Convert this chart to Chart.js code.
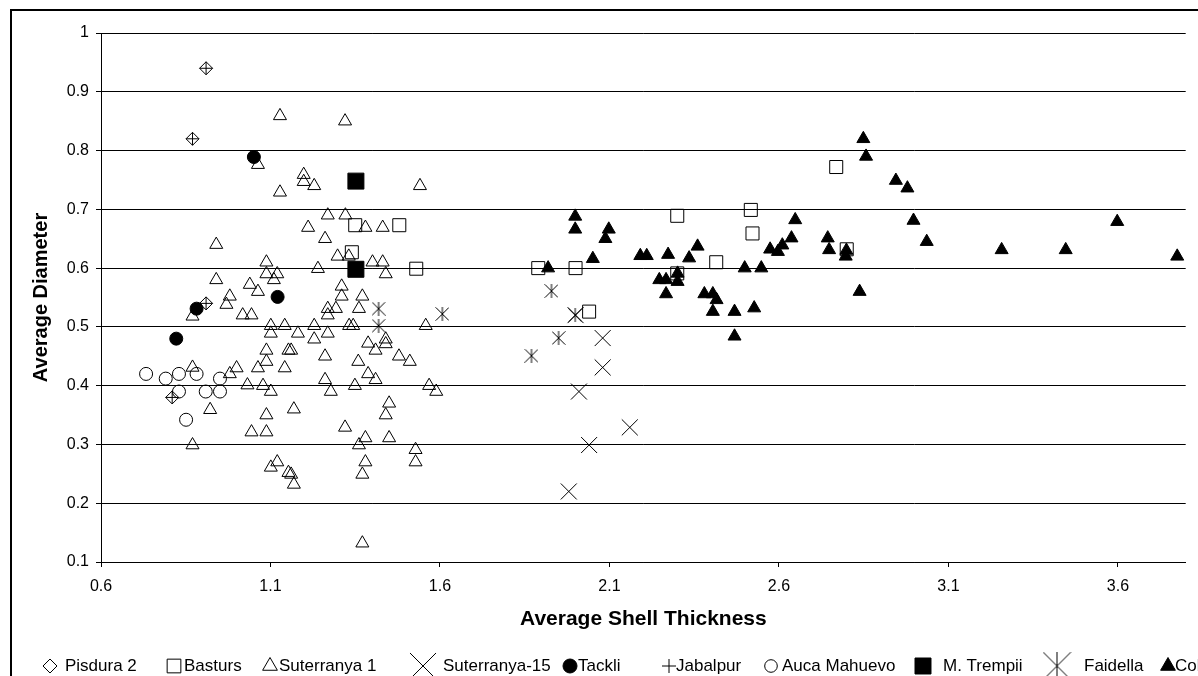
<!DOCTYPE html>
<html>
<head>
<meta charset="utf-8">
<script src="https://cdn.jsdelivr.net/npm/chart.js@4/dist/chart.umd.min.js"></script>
<style>
  body { margin: 0; background: #fff; overflow: hidden; }
  #chart { display: block; }
</style>
</head>
<body>
<canvas id="chart" width="1198" height="676"></canvas>
<script>
// axis ticks
var xTicks = [0.6, 1.1, 1.6, 2.1, 2.6, 3.1, 3.6];
var xTickLabels = ['0.6', '1.1', '1.6', '2.1', '2.6', '3.1', '3.6'];
var yTicks = [0.1, 0.2, 0.3, 0.4, 0.5, 0.6, 0.7, 0.8, 0.9, 1];
var yTickLabels = ['0.1', '0.2', '0.3', '0.4', '0.5', '0.6', '0.7', '0.8', '0.9', '1'];

var seriesNames = ['Pisdura 2', 'Basturs', 'Suterranya 1', 'Suterranya-15', 'Tackli',
  'Jabalpur', 'Auca Mahuevo', 'M. Trempii', 'Faidella', 'Coll de Nargó'];

// [shell thickness, diameter]
var pisdura2 = [[0.91, 0.94], [0.87, 0.82], [0.91, 0.54], [0.81, 0.38]];
var basturs = [[1.35, 0.673], [1.48, 0.673], [1.34, 0.627], [1.53, 0.599], [1.89, 0.6], [2.0, 0.6],
  [2.04, 0.526], [2.3, 0.689], [2.3, 0.591], [2.415, 0.61], [2.517, 0.699], [2.522, 0.659],
  [2.769, 0.772], [2.8, 0.632]];
var suterranya1 = [[1.128, 0.859], [1.32, 0.85], [1.063, 0.776], [1.198, 0.759], [1.198, 0.747],
  [1.229, 0.74], [1.541, 0.74], [1.128, 0.729], [1.269, 0.69], [1.321, 0.69], [1.211, 0.669],
  [1.38, 0.669], [1.431, 0.669], [1.261, 0.65], [1.298, 0.62], [1.331, 0.62], [1.401, 0.61],
  [1.431, 0.61], [1.44, 0.59], [1.24, 0.599], [1.088, 0.61], [1.088, 0.59], [1.12, 0.59],
  [1.11, 0.58], [1.039, 0.572], [1.063, 0.56], [1.31, 0.569], [1.31, 0.552], [1.371, 0.552],
  [1.269, 0.531], [1.293, 0.531], [1.269, 0.52], [1.361, 0.531], [1.044, 0.52], [1.101, 0.502],
  [1.142, 0.502], [1.229, 0.502], [1.332, 0.502], [1.344, 0.502], [1.558, 0.502], [1.101, 0.489],
  [1.181, 0.489], [1.229, 0.479], [1.269, 0.489], [1.44, 0.479], [1.44, 0.471], [1.388, 0.472],
  [1.41, 0.46], [1.479, 0.45], [1.511, 0.441], [1.088, 0.46], [1.153, 0.46], [1.161, 0.46],
  [1.261, 0.45], [1.088, 0.441], [1.359, 0.441], [1.063, 0.43], [1.142, 0.43], [1.388, 0.42],
  [1.41, 0.41], [1.261, 0.41], [1.278, 0.39], [1.349, 0.4], [1.078, 0.4], [1.101, 0.39],
  [1.568, 0.4], [1.589, 0.39], [1.45, 0.37], [1.44, 0.35], [1.088, 0.35], [1.169, 0.36],
  [1.32, 0.329], [1.044, 0.321], [1.088, 0.321], [1.38, 0.311], [1.361, 0.299], [1.45, 0.311],
  [1.528, 0.291], [1.528, 0.27], [1.38, 0.27], [1.371, 0.249], [1.12, 0.27], [1.101, 0.261],
  [1.153, 0.252], [1.161, 0.249], [1.169, 0.232], [1.371, 0.132], [0.94, 0.64], [0.94, 0.58],
  [0.98, 0.552], [0.97, 0.538], [1.018, 0.52], [0.87, 0.518], [0.87, 0.431], [1.0, 0.43],
  [0.98, 0.42], [1.032, 0.401], [0.922, 0.359], [0.87, 0.299]];
var suterranya15 = [[2.0, 0.52], [2.08, 0.481], [2.08, 0.431], [2.01, 0.39], [2.16, 0.329],
  [2.04, 0.299], [1.98, 0.22]];
var tackli = [[1.051, 0.789], [1.121, 0.551], [0.882, 0.531], [0.822, 0.48]];
var jabalpur = [[0.91, 0.94], [0.87, 0.82], [0.91, 0.54], [0.81, 0.38]];
var aucaMahuevo = [[0.733, 0.42], [0.791, 0.412], [0.83, 0.42], [0.882, 0.42], [0.951, 0.412],
  [0.83, 0.39], [0.909, 0.39], [0.951, 0.39], [0.851, 0.342]];
var mTrempii = [[1.352, 0.748], [1.352, 0.598]];
var faidella = [[1.419, 0.531], [1.607, 0.522], [1.419, 0.502], [1.929, 0.561], [1.999, 0.52],
  [1.95, 0.481], [1.87, 0.451]];
var collDeNargo = [[1.919, 0.6], [1.999, 0.688], [1.999, 0.666], [2.051, 0.616], [2.098, 0.666],
  [2.088, 0.65], [2.191, 0.621], [2.21, 0.621], [2.273, 0.623], [2.335, 0.617], [2.36, 0.637],
  [2.247, 0.58], [2.267, 0.58], [2.267, 0.556], [2.301, 0.591], [2.301, 0.577], [2.38, 0.556],
  [2.405, 0.556], [2.416, 0.546], [2.405, 0.526], [2.469, 0.526], [2.527, 0.532], [2.469, 0.484],
  [2.499, 0.6], [2.548, 0.6], [2.574, 0.632], [2.597, 0.628], [2.61, 0.639], [2.637, 0.651],
  [2.648, 0.682], [2.744, 0.651], [2.748, 0.631], [2.799, 0.63], [2.797, 0.62], [2.838, 0.56],
  [2.849, 0.82], [2.857, 0.79], [2.945, 0.749], [2.979, 0.736], [2.997, 0.681], [3.036, 0.645],
  [3.257, 0.631], [3.446, 0.631], [3.598, 0.679], [3.775, 0.62]];

var seriesData = [pisdura2, basturs, suterranya1, suterranya15, tackli,
  jabalpur, aucaMahuevo, mTrempii, faidella, collDeNargo];

// excel style asterisk: X with a vertical bar
function makeStar(size) {
  var c = document.createElement('canvas');
  c.width = size; c.height = size;
  var g = c.getContext('2d');
  g.strokeStyle = '#000';
  g.lineWidth = 1;
  g.beginPath();
  g.moveTo(0.5, 0.5); g.lineTo(size - 0.5, size - 0.5);
  g.moveTo(size - 0.5, 0.5); g.lineTo(0.5, size - 0.5);
  g.moveTo(size / 2, 0); g.lineTo(size / 2, size);
  g.stroke();
  return c;
}

var none = 'rgba(0,0,0,0)';
// marker look per series, plot size and legend size
var markers = [
  { style: 'rectRot', r: 6.5, fill: none, lr: 7 },
  { style: 'rect', r: 9.2, fill: none, lr: 9.7 },
  { style: 'triangle', r: 7.5, fill: none, lr: 8.5 },
  { style: 'crossRot', r: 11.3, fill: none, lr: 18.4 },
  { style: 'circle', r: 6.5, fill: '#000', lr: 7 },
  { style: 'cross', r: 6.5, fill: none, lr: 7 },
  { style: 'circle', r: 6.5, fill: none, lr: 6.3 },
  { style: 'rect', r: 11.3, fill: '#000', lr: 11.3 },
  { style: makeStar(14), r: 7, fill: none, lr: 14, legendStyle: makeStar(29) },
  { style: 'triangle', r: 7.5, fill: '#000', lr: 8.5 }
];

var legendMarkerX = [50, 174, 270, 423, 570, 669, 771, 923, 1057, 1168];
var legendTextX = [65, 184, 279, 443, 578, 676, 782, 943, 1084, 1175];

var datasets = seriesNames.map(function (name, i) {
  return {
    label: name,
    data: seriesData[i].map(function (p) { return { x: p[0], y: p[1] }; }),
    pointStyle: markers[i].style,
    pointRadius: markers[i].r,
    backgroundColor: markers[i].fill,
    borderColor: '#000',
    borderWidth: 1,
    order: seriesNames.length - i
  };
});

var frame = {
  id: 'frame',
  beforeDraw: function (chart) {
    var c = chart.ctx;
    c.save();
    c.fillStyle = '#fff';
    c.fillRect(0, 0, chart.width, chart.height);
    c.strokeStyle = '#000';
    c.lineWidth = 2;
    c.strokeRect(11, 10, 3000, 3000);
    c.restore();
  }
};

var legendRow = {
  id: 'legendRow',
  afterDraw: function (chart) {
    var c = chart.ctx;
    var y = 666;
    c.save();
    chart.data.datasets.forEach(function (ds, i) {
      var m = markers[i];
      c.fillStyle = m.fill;
      c.strokeStyle = '#000';
      c.lineWidth = 1;
      Chart.helpers.drawPoint(c, {
        pointStyle: m.legendStyle || m.style,
        radius: m.lr,
        rotation: 0,
        borderWidth: 1
      }, legendMarkerX[i], y);
      c.fillStyle = '#000';
      c.font = '17px "Liberation Sans", Arial, sans-serif';
      c.textAlign = 'left';
      c.textBaseline = 'middle';
      c.fillText(ds.label, legendTextX[i], y);
    });
    c.restore();
  }
};

var ctx = document.getElementById('chart').getContext('2d');
var chart = new Chart(ctx, {
  type: 'scatter',
  data: { datasets: datasets },
  plugins: [frame, legendRow],
  options: {
    responsive: false,
    animation: false,
    events: [],
    layout: { padding: { left: 0, top: 33, right: 11, bottom: 38 } },
    plugins: {
      legend: { display: false },
      tooltip: { enabled: false }
    },
    scales: {
      x: {
        type: 'linear',
        min: 0.6,
        max: 3.8,
        afterBuildTicks: function (scale) {
          scale.ticks = xTicks.map(function (v) { return { value: v }; });
        },
        afterFit: function (scale) { scale.height = 76; },
        ticks: {
          color: '#000',
          padding: 10,
          font: { family: '"Liberation Sans", Arial, sans-serif', size: 16 },
          callback: function (v, i) { return xTickLabels[i]; }
        },
        grid: { drawOnChartArea: false, drawTicks: true, tickLength: 5, color: '#000' },
        border: { color: '#000', width: 1 },
        title: {
          display: true,
          text: 'Average Shell Thickness',
          color: '#000',
          padding: { top: 0, bottom: 6 },
          font: { family: '"Liberation Sans", Arial, sans-serif', size: 21, weight: 'bold' }
        }
      },
      y: {
        type: 'linear',
        min: 0.1,
        max: 1,
        afterBuildTicks: function (scale) {
          scale.ticks = yTicks.map(function (v) { return { value: v }; });
        },
        afterFit: function (scale) { scale.width = 101; },
        ticks: {
          color: '#000',
          padding: 7,
          font: { family: '"Liberation Sans", Arial, sans-serif', size: 16 },
          callback: function (v, i) { return yTickLabels[i]; }
        },
        grid: { color: '#000', tickLength: 5, lineWidth: 1 },
        border: { color: '#000', width: 1 },
        title: {
          display: true,
          text: 'Average Diameter',
          color: '#000',
          padding: { top: 29, bottom: 0 },
          font: { family: '"Liberation Sans", Arial, sans-serif', size: 20, weight: 'bold' }
        }
      }
    }
  }
});
</script>
</body>
</html>
